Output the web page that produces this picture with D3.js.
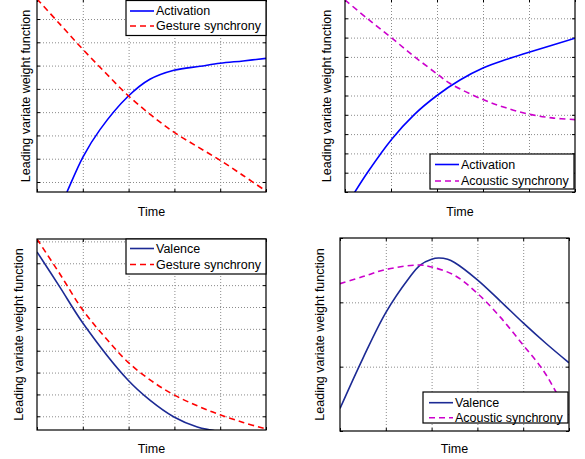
<!DOCTYPE html>
<html>
<head>
<meta charset="utf-8">
<script src="https://cdn.jsdelivr.net/npm/d3@7"></script>
<style>
  html, body { margin: 0; padding: 0; background: #fff; }
  svg { display: block; font-family: "Liberation Sans", Arial, Helvetica, sans-serif; }
</style>
</head>
<body>
<svg id="chart" width="585" height="459"></svg>
<script>
// ---------------- DATA ----------------
const xTickValues = [0, 0.2, 0.4, 0.6, 0.8, 1];
const yLabel = "Leading variate weight function";
const xLabel = "Time";

// Panel 1: Activation vs Gesture synchrony
const p1ActivationX = [0.12, 0.131, 0.201, 0.275, 0.397, 0.493, 0.598, 0.712, 0.799, 0.9, 1.0];
const p1ActivationY = [0.33, 0.57, 2.08, 3.25, 4.67, 5.41, 5.80, 5.97, 6.10, 6.20, 6.31];
const p1GestureX = [0, 0.1, 0.2, 0.3, 0.397, 0.5, 0.598, 0.7, 0.8, 0.9, 1.0];
const p1GestureY = [8.86, 7.78, 6.70, 5.68, 4.72, 3.86, 3.14, 2.52, 1.93, 1.28, 0.61];
const p1YTicks = [1, 2, 3, 4, 5, 6, 7, 8];

// Panel 2: Activation vs Acoustic synchrony
const p2ActivationX = [0.035, 0.1, 0.204, 0.3, 0.4, 0.5, 0.6, 0.7, 0.8, 1.0];
const p2ActivationY = [-0.15, 1.05, 2.75, 4.00, 5.00, 5.80, 6.42, 6.86, 7.24, 7.97];
const p2AcousticX = [0, 0.1, 0.204, 0.3, 0.4, 0.457, 0.6, 0.7, 0.8, 0.9, 1.0];
const p2AcousticY = [9.95, 8.96, 7.97, 7.03, 6.12, 5.62, 4.79, 4.36, 4.03, 3.84, 3.75];
const p2YTicks = [0, 1, 2, 3, 4, 5, 6, 7, 8, 9, 10];

// Panel 3: Valence vs Gesture synchrony
const p3ValenceX = [0, 0.1, 0.2, 0.397, 0.493, 0.598, 0.7, 0.76, 0.85];
const p3ValenceY = [8.52, 6.91, 5.27, 2.66, 1.74, 0.97, 0.51, 0.37, 0.2];
const p3GestureX = [0, 0.1, 0.2, 0.3, 0.397, 0.5, 0.598, 0.7, 0.799, 0.9, 1.0];
const p3GestureY = [9.11, 7.51, 5.86, 4.58, 3.48, 2.62, 1.98, 1.48, 1.07, 0.72, 0.42];
const p3YTicks = [1, 2, 3, 4, 5, 6, 7, 8, 9];

// Panel 4: Valence vs Acoustic synchrony
const p4ValenceX = [0, 0.1, 0.2, 0.3, 0.35, 0.4, 0.43, 0.47, 0.5, 0.6, 0.7, 0.8, 0.9, 1.0];
const p4ValenceY = [0.35, 1.13, 1.84, 2.37, 2.58, 2.67, 2.69, 2.67, 2.62, 2.35, 2.02, 1.68, 1.36, 1.06];
const p4AcousticX = [0, 0.1, 0.2, 0.341, 0.4, 0.5, 0.6, 0.7, 0.8, 0.886, 0.946, 1.0];
const p4AcousticY = [2.29, 2.40, 2.51, 2.58, 2.55, 2.42, 2.14, 1.77, 1.335, 0.95, 0.59, 0.25];
const p4YTicks = [0, 1, 2, 3];

// ---------------- STYLES ----------------
const BLUE = "#0000ff", NAVY = "#1c2a94", RED = "#ff0000", MAGENTA = "#cc00cc";

const panels = [
  { box: {l: 37, r: 266, t: -1, b: 192}, yDomain: [0.57, 8.86], yTicks: p1YTicks,
    yLabelX: 30, timeY: 216,
    series: [
      {name: "Activation", xs: p1ActivationX, ys: p1ActivationY, color: BLUE, dash: null},
      {name: "Gesture synchrony", xs: p1GestureX, ys: p1GestureY, color: RED, dash: "6,4"}
    ],
    legend: {x: 126, y: 0.5, w: 140, h: 35, rows: [11, 26], lx0: 130, lx1: 154, tx: 156} },
  { box: {l: 345, r: 575, t: -1, b: 192}, yDomain: [0, 10], yTicks: p2YTicks,
    yLabelX: 331, timeY: 216,
    series: [
      {name: "Activation", xs: p2ActivationX, ys: p2ActivationY, color: BLUE, dash: null},
      {name: "Acoustic synchrony", xs: p2AcousticX, ys: p2AcousticY, color: MAGENTA, dash: "6,4"}
    ],
    legend: {x: 430, y: 154, w: 144, h: 35, rows: [164.5, 181], lx0: 435, lx1: 459, tx: 461} },
  { box: {l: 37, r: 266, t: 239, b: 430}, yDomain: [0.373, 9.11], yTicks: p3YTicks,
    yLabelX: 22.5, timeY: 453,
    series: [
      {name: "Valence", xs: p3ValenceX, ys: p3ValenceY, color: NAVY, dash: null},
      {name: "Gesture synchrony", xs: p3GestureX, ys: p3GestureY, color: RED, dash: "6,4"}
    ],
    legend: {x: 126, y: 239, w: 140, h: 35, rows: [248.5, 264.5], lx0: 130, lx1: 154, tx: 156} },
  { box: {l: 340, r: 569, t: 238, b: 431}, yDomain: [0, 3], yTicks: p4YTicks,
    yLabelX: 324, timeY: 453,
    series: [
      {name: "Valence", xs: p4ValenceX, ys: p4ValenceY, color: NAVY, dash: null},
      {name: "Acoustic synchrony", xs: p4AcousticX, ys: p4AcousticY, color: MAGENTA, dash: "6,4"}
    ],
    legend: {x: 423, y: 392, w: 145, h: 31, rows: [402.7, 417.7], lx0: 429, lx1: 453, tx: 455} }
];

const svg = d3.select("#chart");

panels.forEach((p, i) => {
  const B = p.box;
  const x = d3.scaleLinear().domain([0, 1]).range([B.l, B.r]);
  const y = d3.scaleLinear().domain(p.yDomain).range([B.b, B.t]);
  const g = svg.append("g");

  const clipId = "clip" + i;
  g.append("clipPath").attr("id", clipId).append("rect")
    .attr("x", B.l).attr("y", B.t).attr("width", B.r - B.l).attr("height", B.b - B.t);

  g.append("rect").attr("x", B.l).attr("y", B.t).attr("width", B.r - B.l).attr("height", B.b - B.t)
    .attr("fill", "#fff");

  // dotted grid lines
  const gridX = g.append("g").attr("transform", `translate(0,${B.b})`)
    .call(d3.axisBottom(x).tickValues(xTickValues.slice(1, -1)).tickSize(-(B.b - B.t)).tickFormat(""));
  gridX.select(".domain").remove();
  gridX.selectAll("line").attr("stroke", "#8a8a8a").attr("stroke-dasharray", "1,2").attr("stroke-width", 1);

  const yInner = p.yTicks.filter(v => y(v) > B.t + 0.5 && y(v) < B.b - 0.5);
  const gridY = g.append("g").attr("transform", `translate(${B.l},0)`)
    .call(d3.axisLeft(y).tickValues(yInner).tickSize(-(B.r - B.l)).tickFormat(""));
  gridY.select(".domain").remove();
  gridY.selectAll("line").attr("stroke", "#8a8a8a").attr("stroke-dasharray", "1,2").attr("stroke-width", 1);

  // inward ticks on all four sides
  const tl = 3;
  const tb = g.append("g").attr("transform", `translate(0,${B.b})`)
    .call(d3.axisBottom(x).tickValues(xTickValues).tickSize(-tl).tickFormat(""));
  const tt = g.append("g").attr("transform", `translate(0,${B.t})`)
    .call(d3.axisTop(x).tickValues(xTickValues).tickSize(-tl).tickFormat(""));
  const tlft = g.append("g").attr("transform", `translate(${B.l},0)`)
    .call(d3.axisLeft(y).tickValues(p.yTicks).tickSize(-tl).tickFormat(""));
  const trt = g.append("g").attr("transform", `translate(${B.r},0)`)
    .call(d3.axisRight(y).tickValues(p.yTicks).tickSize(-tl).tickFormat(""));
  [tb, tt, tlft, trt].forEach(a => { a.select(".domain").remove(); a.selectAll("line").attr("stroke", "#000"); });

  // series lines
  p.series.forEach(s => {
    const pts = s.xs.map((xv, k) => [xv, s.ys[k]]);
    const line = d3.line().x(d => x(d[0])).y(d => y(d[1])).curve(d3.curveCatmullRom.alpha(0.5));
    g.append("path").attr("clip-path", `url(#${clipId})`)
      .attr("d", line(pts)).attr("fill", "none").attr("stroke", s.color)
      .attr("stroke-width", 1.6).attr("stroke-dasharray", s.dash);
  });

  // frame
  g.append("rect").attr("x", B.l).attr("y", B.t).attr("width", B.r - B.l).attr("height", B.b - B.t)
    .attr("fill", "none").attr("stroke", "#000").attr("stroke-width", 1.2);

  // legend
  const L = p.legend;
  const lg = g.append("g");
  lg.append("rect").attr("x", L.x).attr("y", L.y).attr("width", L.w).attr("height", L.h)
    .attr("fill", "#fff").attr("stroke", "#000").attr("stroke-width", 1.2);
  p.series.forEach((s, k) => {
    lg.append("line").attr("x1", L.lx0).attr("x2", L.lx1).attr("y1", L.rows[k]).attr("y2", L.rows[k])
      .attr("stroke", s.color).attr("stroke-width", 1.6).attr("stroke-dasharray", s.dash);
    lg.append("text").attr("x", L.tx).attr("y", L.rows[k]).attr("dy", "0.35em")
      .attr("font-size", "12.5px").attr("fill", "#000").text(s.name);
  });

  // axis labels
  g.append("text").attr("x", (B.l + B.r) / 2).attr("y", p.timeY).attr("text-anchor", "middle")
    .attr("font-size", "12.5px").attr("fill", "#000").text(xLabel);
  const cy = (Math.max(B.t, 0) + B.b) / 2;
  g.append("text").attr("transform", `translate(${p.yLabelX},${cy}) rotate(-90)`)
    .attr("text-anchor", "middle").attr("font-size", "12.5px").attr("fill", "#000").text(yLabel);
});
</script>
</body>
</html>
